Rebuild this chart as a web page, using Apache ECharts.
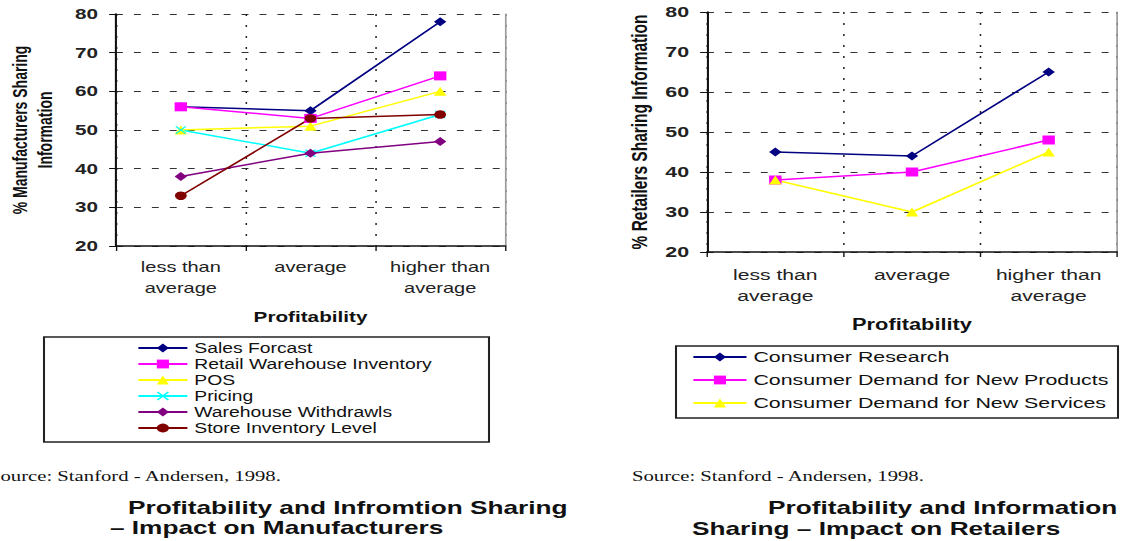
<!DOCTYPE html>
<html>
<head>
<meta charset="utf-8">
<script src="https://cdn.jsdelivr.net/npm/echarts@6/dist/echarts.min.js"></script>
<style>
  html, body { margin: 0; padding: 0; background: #fff; overflow: hidden; }
  #wrap { width: 1121px; height: 541px; overflow: hidden; position: relative; }
  #chart { position: absolute; left: 0; top: 0; height: 541px; transform-origin: 0 0; }
</style>
</head>
<body>
<div id="wrap"><div id="chart"></div></div>
<script>
// Categories and values
const categories = ['less than\naverage', 'average', 'higher than\naverage'];
const yMin = 20, yMax = 80, yStep = 10;

// Manufacturers
const salesForcast = [56, 55, 78];
const retailWarehouseInventory = [56, 53, 64];
const pos = [50, 51, 60];
const pricing = [50, 44, 54];
const warehouseWithdrawls = [38, 44, 47];
const storeInventoryLevel = [33, 53, 54];

// Retailers
const consumerResearch = [45, 44, 65];
const demandNewProducts = [38, 40, 48];
const demandNewServices = [38, 30, 45];

// The figure is drawn at a narrower width and widened horizontally.
const S = 1.38;
const W = 1121, H = 541;
const px = v => v / S;

const chartEl = document.getElementById('chart');
chartEl.style.width = px(W) + 'px';
chartEl.style.transform = 'scaleX(' + S + ')';

const FONT = '"Liberation Sans", Arial, sans-serif';
const SERIF = '"Liberation Serif", "Times New Roman", serif';

const crossPath = 'path://M0,1 L1,0 L5,4 L9,0 L10,1 L6,5 L10,9 L9,10 L5,6 L1,10 L0,9 L4,5 Z';

function line(name, data, color, symbol, size, axis) {
  return {
    type: 'line', name, data,
    xAxisIndex: axis, yAxisIndex: axis * 2,
    symbol, symbolSize: size,
    lineStyle: { color, width: 1.5 },
    itemStyle: { color, borderWidth: 0 },
    emphasis: { disabled: true }
  };
}

function xAxisDef(gridIndex, fontSize, margin, nameGap, nameSize) {
  return {
    type: 'category', gridIndex, data: categories, boundaryGap: true,
    name: 'Profitability', nameLocation: 'middle', nameGap,
    nameTextStyle: { fontFamily: FONT, fontSize: nameSize, fontWeight: 'bold', color: '#111' },
    axisLine: { lineStyle: { color: '#111', width: 1.5 } },
    axisTick: { show: true, interval: 0, length: 5, lineStyle: { color: '#111', width: 1 } },
    axisLabel: { interval: 0, fontFamily: FONT, fontSize, lineHeight: 21, margin, color: '#222', hideOverlap: false },
    splitLine: { show: true, interval: 0, lineStyle: { color: '#222', width: 1.1, type: [2, 9] } }
  };
}

function yAxisDef(gridIndex, name, nameGap, nameSize, nameLH, labelSize) {
  return {
    type: 'value', gridIndex, min: yMin, max: yMax, interval: yStep,
    name, nameLocation: 'middle', nameRotate: 90, nameGap,
    nameTextStyle: { fontFamily: FONT, fontSize: nameSize, fontWeight: 'bold', color: '#111', lineHeight: nameLH },
    axisLine: { show: true, lineStyle: { color: '#111', width: 1.5 } },
    axisTick: { show: true, length: 5, lineStyle: { color: '#111', width: 1 } },
    axisLabel: { fontFamily: FONT, fontSize: labelSize, fontWeight: 'bold', color: '#222', margin: 13 },
    splitLine: { show: true, lineStyle: { color: '#333', width: 1, type: [5, 8] } }
  };
}

function borderAxis(gridIndex) {
  return {
    type: 'value', gridIndex, position: 'right', min: yMin, max: yMax, interval: yStep,
    axisLine: { show: true, lineStyle: { color: '#999', width: 1.2 } },
    axisTick: { show: false }, axisLabel: { show: false }, splitLine: { show: false }
  };
}

function txt(x, y, text, font, align) {
  return {
    type: 'text', x: px(x), y,
    style: { text, font, fill: '#111', textAlign: align || 'left', textVerticalAlign: 'middle', verticalAlign: 'middle' }
  };
}

const leftNames = ['Sales Forcast', 'Retail Warehouse Inventory', 'POS', 'Pricing', 'Warehouse Withdrawls', 'Store Inventory Level'];
const rightNames = ['Consumer Research', 'Consumer Demand for New Products', 'Consumer Demand for New Services'];

const option = {
  animation: false,
  backgroundColor: '#fff',
  grid: [
    { left: px(116), top: 14, width: px(389), height: 232 },
    { left: px(707), top: 12, width: px(410), height: 240 }
  ],
  xAxis: [
    xAxisDef(0, 14.5, 11, 64, 15),
    xAxisDef(1, 15.3, 12, 65, 15.8)
  ],
  yAxis: [
    yAxisDef(0, '% Manufacturers Sharing\nInformation', 42, 14, 18, 15),
    borderAxis(0),
    yAxisDef(1, '% Retailers Sharing Information', 40, 15.5, 18, 15.5),
    borderAxis(1)
  ],
  legend: [
    {
      data: leftNames, orient: 'vertical', left: px(137), top: 340,
      itemWidth: 35.5, itemHeight: 11, itemGap: 0, padding: 0,
      textStyle: { fontFamily: FONT, fontSize: 14, lineHeight: 16, color: '#111' },
      selectedMode: false
    },
    {
      data: rightNames, orient: 'vertical', left: px(692), top: 348,
      itemWidth: 38.5, itemHeight: 11, itemGap: 5, padding: 0,
      textStyle: { fontFamily: FONT, fontSize: 15.5, lineHeight: 18, color: '#111' },
      selectedMode: false
    }
  ],
  graphic: [
    { type: 'rect', shape: { x: px(44), y: 337, width: px(445), height: 105 },
      style: { fill: 'none', stroke: '#222', lineWidth: 1.5 } },
    { type: 'rect', shape: { x: px(676), y: 346, width: px(442), height: 72 },
      style: { fill: 'none', stroke: '#222', lineWidth: 1.5 } },
    txt(-11, 476, 'Source: Stanford - Andersen, 1998.', '15px ' + SERIF),
    txt(632, 476, 'Source: Stanford - Andersen, 1998.', '15px ' + SERIF),
    txt(128, 507, 'Profitability and Infromtion Sharing', 'bold 19px ' + FONT),
    txt(110, 527, '\u2013 Impact on Manufacturers', 'bold 19px ' + FONT),
    txt(768, 507, 'Profitability and Information', 'bold 19px ' + FONT),
    txt(692, 528, 'Sharing \u2013 Impact on Retailers', 'bold 19px ' + FONT)
  ],
  series: [
    line(leftNames[0], salesForcast, '#000080', 'diamond', 9, 0),
    line(leftNames[1], retailWarehouseInventory, '#FF00FF', 'rect', 9, 0),
    line(leftNames[2], pos, '#FFFF00', 'triangle', 9, 0),
    line(leftNames[3], pricing, '#00FFFF', crossPath, 8, 0),
    line(leftNames[4], warehouseWithdrawls, '#800080', 'diamond', 9, 0),
    line(leftNames[5], storeInventoryLevel, '#800000', 'circle', 8.5, 0),
    line(rightNames[0], consumerResearch, '#000080', 'diamond', 9, 1),
    line(rightNames[1], demandNewProducts, '#FF00FF', 'rect', 9, 1),
    line(rightNames[2], demandNewServices, '#FFFF00', 'triangle', 9, 1)
  ]
};

const chart = echarts.init(chartEl, null, { renderer: 'svg', width: px(W), height: H });
chart.setOption(option);
</script>
</body>
</html>
